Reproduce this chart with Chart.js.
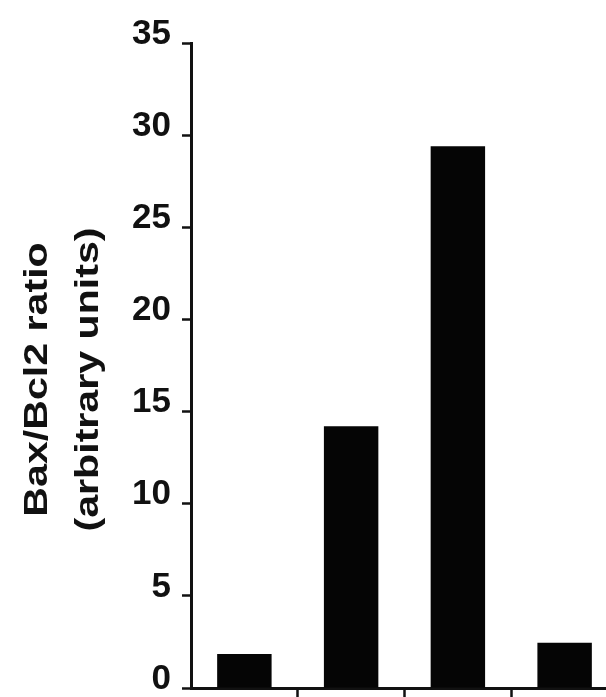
<!DOCTYPE html>
<html lang="en">
<head>
    <meta charset="UTF-8">
    <title>Bax/Bcl2 ratio</title>
    <script src="https://cdn.jsdelivr.net/npm/chart.js"></script>
    <style>
        html, body { margin: 0; padding: 0; background: #fff; overflow: hidden; }
        #baxChart { display: block; }
    </style>
</head>
<body>
    <canvas id="baxChart" width="606" height="697"></canvas>

    <script>
        // Data (x labels are cropped away in the original)
        const groups = ['1', '2', '3', '4'];
        const ratios = [1.85, 14.2, 29.4, 2.45];
        const yTicks = [0, 5, 10, 15, 20, 25, 30, 35];
        const yTitleLines = ['Bax/Bcl2 ratio', '(arbitrary units)'];

        const ink = '#111';
        const fontFamily = '"Liberation Sans", Arial, Helvetica, sans-serif';
        // the figure is cropped on the right, the plot runs ~12px past the edge
        const cropRight = 12;

        // layout won't accept negative padding, so widen the x scale after layout
        const cropPlugin = {
            id: 'cropRight',
            afterLayout(chart) {
                const xs = chart.scales.x;
                xs.right += cropRight;
                xs.width += cropRight;
                chart.chartArea.right += cropRight;
                chart.chartArea.width += cropRight;
                xs.configure();
            }
        };

        // The y title in the figure is a bit stretched along its length,
        // so it is drawn by hand instead of with scale.title
        const yTitlePlugin = {
            id: 'yTitle',
            afterDraw(chart) {
                const ctx = chart.ctx;
                const area = chart.chartArea;
                const midY = (area.top + area.bottom) / 2 + 14;
                const baselines = [47, 98];
                ctx.save();
                ctx.fillStyle = ink;
                ctx.font = 'bold 34px ' + fontFamily;
                ctx.textAlign = 'center';
                ctx.textBaseline = 'alphabetic';
                yTitleLines.forEach((line, i) => {
                    ctx.save();
                    ctx.translate(baselines[i], midY);
                    ctx.rotate(-Math.PI / 2);
                    ctx.scale(1.21, 1);
                    ctx.fillText(line, 0, 0);
                    ctx.restore();
                });
                ctx.restore();
            }
        };

        const ctx = document.getElementById('baxChart').getContext('2d');
        new Chart(ctx, {
            type: 'bar',
            data: {
                labels: groups,
                datasets: [{
                    data: ratios,
                    backgroundColor: '#050505',
                    borderWidth: 0,
                    categoryPercentage: 1.0,
                    barPercentage: 0.51
                }]
            },
            options: {
                responsive: false,
                animation: false,
                layout: {
                    padding: { top: 43, right: 0, left: 0, bottom: 0 }
                },
                plugins: {
                    legend: { display: false },
                    tooltip: { enabled: false }
                },
                scales: {
                    x: {
                        offset: true,
                        grid: {
                            offset: true,
                            drawOnChartArea: false,
                            drawTicks: true,
                            tickLength: 9,
                            tickWidth: 2.5,
                            tickColor: c => (c.index === 0 ? 'rgba(0,0,0,0)' : ink)
                        },
                        border: { display: true, color: ink, width: 3 },
                        ticks: { display: false },
                        afterFit: scale => { scale.height = 9; }
                    },
                    y: {
                        min: 0,
                        max: 35,
                        afterBuildTicks: scale => {
                            scale.ticks = yTicks.map(v => ({ value: v }));
                        },
                        grid: {
                            drawOnChartArea: false,
                            drawTicks: true,
                            tickLength: 9,
                            tickWidth: 2.5,
                            tickColor: ink
                        },
                        border: { display: true, color: ink, width: 3 },
                        ticks: {
                            color: ink,
                            padding: 11,
                            labelOffset: -9,
                            font: { family: fontFamily, size: 35, weight: 'bold' }
                        },
                        afterFit: scale => {
                            scale.width = 191;
                            // labels may hang over top/bottom, the figure doesn't reserve room
                            scale.paddingTop = 0;
                            scale.paddingBottom = 0;
                        }
                    }
                }
            },
            plugins: [cropPlugin, yTitlePlugin]
        });
    </script>
</body>
</html>
